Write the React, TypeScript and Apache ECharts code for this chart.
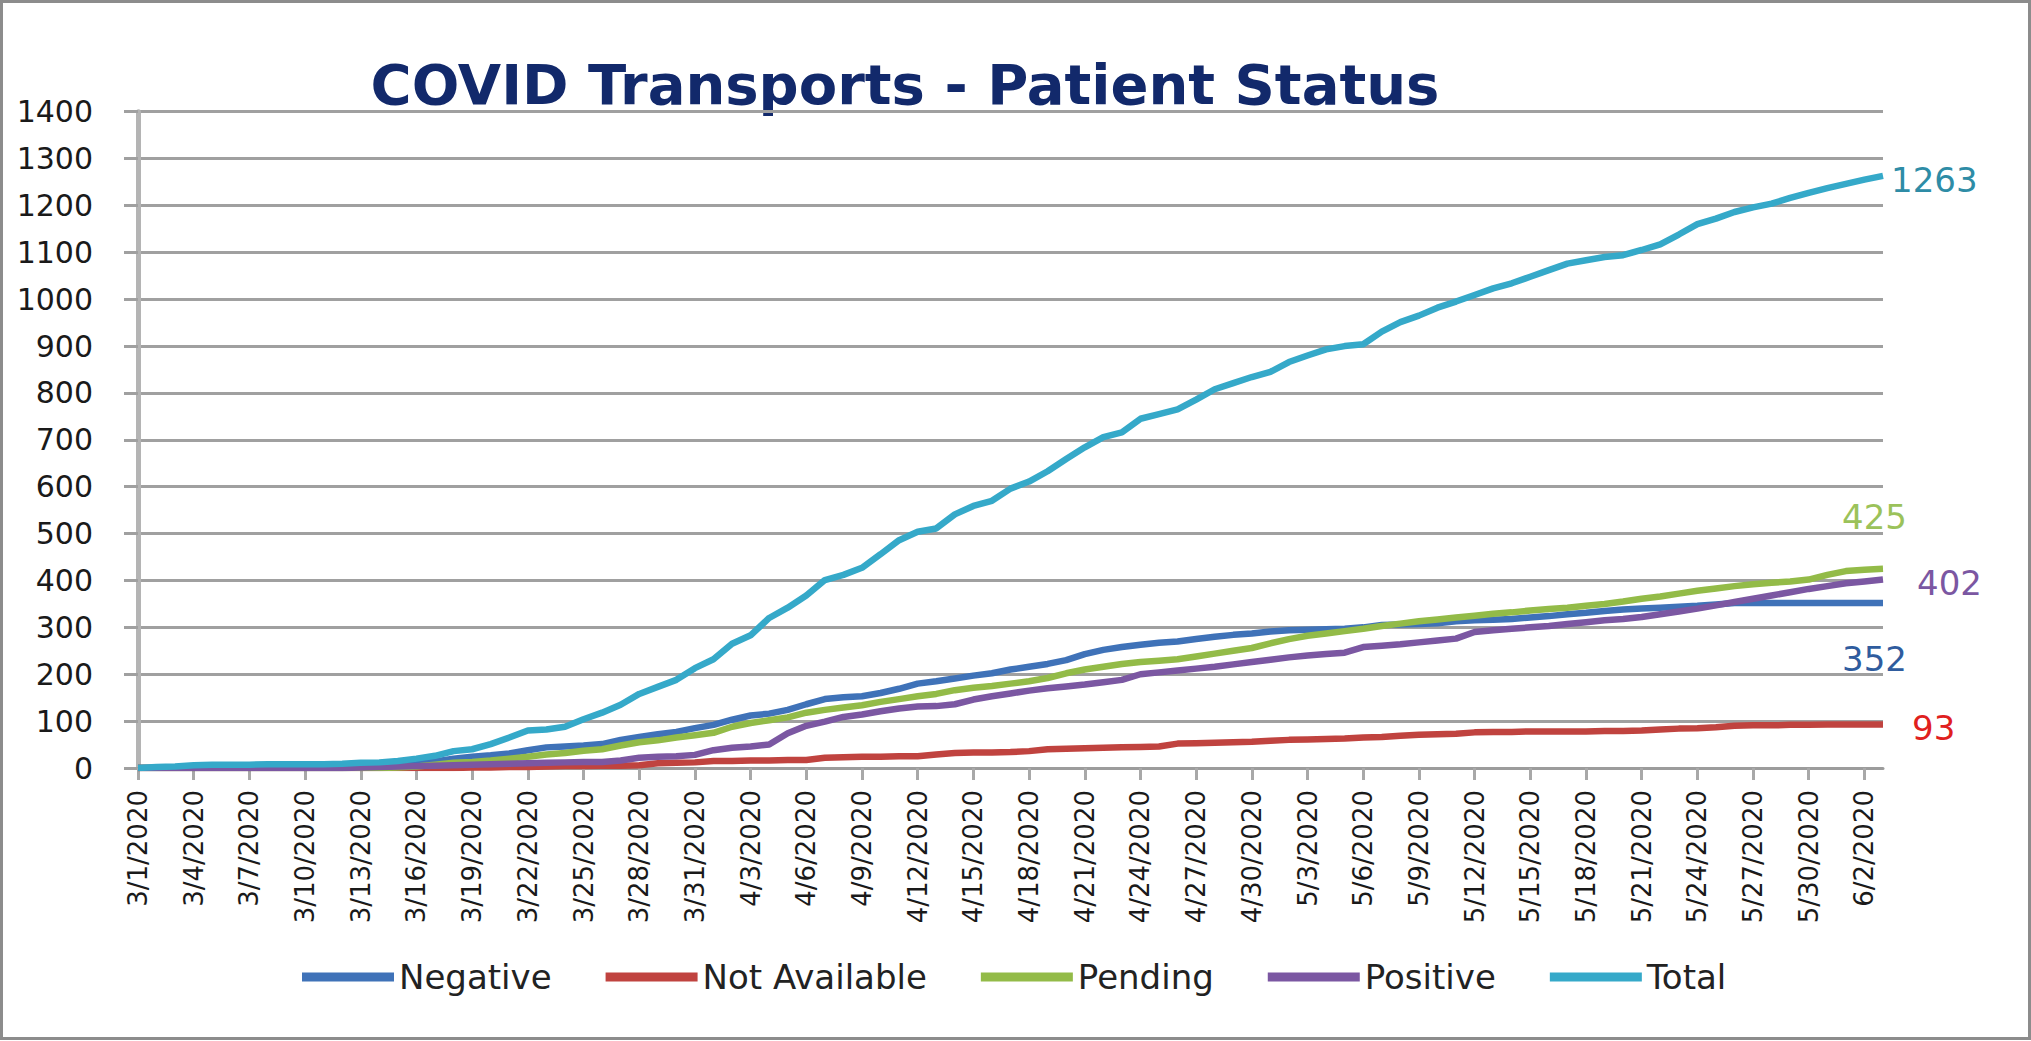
import { useEffect, useRef } from "react";
import * as echarts from "echarts";

const dates = [
  "3/1/2020","3/2/2020","3/3/2020","3/4/2020","3/5/2020","3/6/2020","3/7/2020","3/8/2020","3/9/2020","3/10/2020",
  "3/11/2020","3/12/2020","3/13/2020","3/14/2020","3/15/2020","3/16/2020","3/17/2020","3/18/2020","3/19/2020","3/20/2020",
  "3/21/2020","3/22/2020","3/23/2020","3/24/2020","3/25/2020","3/26/2020","3/27/2020","3/28/2020","3/29/2020","3/30/2020",
  "3/31/2020","4/1/2020","4/2/2020","4/3/2020","4/4/2020","4/5/2020","4/6/2020","4/7/2020","4/8/2020","4/9/2020",
  "4/10/2020","4/11/2020","4/12/2020","4/13/2020","4/14/2020","4/15/2020","4/16/2020","4/17/2020","4/18/2020","4/19/2020",
  "4/20/2020","4/21/2020","4/22/2020","4/23/2020","4/24/2020","4/25/2020","4/26/2020","4/27/2020","4/28/2020","4/29/2020",
  "4/30/2020","5/1/2020","5/2/2020","5/3/2020","5/4/2020","5/5/2020","5/6/2020","5/7/2020","5/8/2020","5/9/2020",
  "5/10/2020","5/11/2020","5/12/2020","5/13/2020","5/14/2020","5/15/2020","5/16/2020","5/17/2020","5/18/2020","5/19/2020",
  "5/20/2020","5/21/2020","5/22/2020","5/23/2020","5/24/2020","5/25/2020","5/26/2020","5/27/2020","5/28/2020","5/29/2020",
  "5/30/2020","5/31/2020","6/1/2020","6/2/2020","6/3/2020",
];

const negative = [
  0,0,0,0,0,0,0,0,0,0,
  0,0,1,2,4,8,14,20,24,27,
  31,38,44,46,48,51,60,66,72,77,
  85,92,103,112,116,124,136,147,151,153,
  160,169,180,185,191,197,202,210,216,222,
  230,243,252,258,263,267,270,275,280,284,
  287,291,294,295,296,297,300,305,306,307,
  309,313,315,316,318,321,324,328,331,335,
  338,340,342,344,346,349,352,352,352,352,
  352,352,352,352,352,
];

const notAvailable = [
  0,0,0,0,0,0,0,0,0,0,
  0,0,0,0,0,0,0,0,1,1,
  2,2,3,4,4,5,5,6,10,11,
  12,15,15,16,16,17,17,22,23,24,
  24,25,25,29,32,33,33,34,36,40,
  41,42,43,44,45,46,52,53,54,55,
  56,58,60,61,62,63,65,66,69,71,
  72,73,76,77,77,78,78,78,78,79,
  79,80,82,84,85,87,90,91,91,92,
  92,93,93,93,93,
];

const pending = [
  0,0,0,0,0,0,0,0,0,0,
  0,0,0,0,1,3,7,11,13,16,
  20,24,29,32,37,40,48,55,59,65,
  70,75,88,96,102,108,118,124,129,134,
  141,147,153,158,166,171,175,180,185,192,
  202,210,216,222,226,229,232,238,244,250,
  256,266,275,282,287,292,297,303,308,313,
  317,321,325,329,332,336,339,342,346,350,
  355,361,366,372,378,383,388,392,395,398,
  402,412,420,423,425,
];

const positive = [
  0,0,0,0,0,0,0,0,0,0,
  0,0,1,2,3,4,5,6,7,8,
  9,10,11,12,13,13,16,22,24,25,
  28,38,43,46,50,74,90,99,109,114,
  121,127,131,132,136,146,153,159,165,170,
  174,178,183,188,200,204,208,212,216,221,
  226,231,236,240,243,246,258,261,264,268,
  272,276,290,294,297,300,303,307,311,315,
  318,322,328,334,340,347,354,361,368,375,
  382,388,394,398,402,
];

const total = [
  0,2,3,6,7,7,7,8,8,8,
  8,9,11,12,15,20,26,36,40,51,
  65,80,82,88,104,118,135,158,173,188,
  213,232,265,283,320,342,368,401,412,427,
  456,486,504,511,541,559,570,596,611,633,
  659,684,706,716,745,755,765,786,808,821,
  834,845,866,880,893,900,904,931,951,965,
  982,995,1009,1023,1034,1048,1062,1076,1083,1090,
  1094,1105,1117,1138,1160,1172,1186,1196,1204,1216,
  1227,1237,1246,1255,1263,
];

const seriesNames = ["Negative", "Not Available", "Pending", "Positive", "Total"];
const lineColors = ["#3F72B8", "#C0433F", "#93BB48", "#7B57A2", "#35A9C9"];
const labelColors = ["#2F5C9E", "#E0201E", "#9BC25A", "#7B57A2", "#2E8CA6"];
const labelOffsets: [number, number][] = [[-41, 56], [29, 4], [-41, -52], [34, 3], [8, 4]];
const seriesValues = [negative, notAvailable, pending, positive, total];

const yMax = 1400;
const yStep = 100;
const FONT = "DejaVu Sans";

export default function App() {
  const ref = useRef<HTMLDivElement>(null);
  useEffect(() => {
    const chart = echarts.init(ref.current!, null, { renderer: "svg" });
    chart.setOption({
      animation: false,
      backgroundColor: "#ffffff",
      graphic: [
        {
          type: "rect",
          shape: { x: 1.5, y: 1.5, width: 2028, height: 1037 },
          style: { fill: "none", stroke: "#8c8c8c", lineWidth: 3 },
          silent: true,
        },
        {
          type: "text",
          x: 905,
          y: 84,
          style: {
            text: "COVID Transports - Patient Status",
            font: `bold 56px "${FONT}"`,
            fill: "#12296B",
            textAlign: "center",
            textVerticalAlign: "middle",
          },
        },
      ],
      grid: { left: 138, right: 148, top: 111.7, bottom: 273, containLabel: false },
      legend: {
        data: seriesNames,
        left: 297,
        top: 955,
        icon: "rect",
        itemWidth: 92,
        itemHeight: 9,
        itemGap: 54,
        textStyle: { fontFamily: FONT, fontSize: 34, color: "#222" },
      },
      xAxis: {
        type: "category",
        data: dates,
        boundaryGap: false,
        axisLine: { show: true, lineStyle: { color: "#9c9c9c", width: 3 } },
        axisTick: { show: true, interval: 2, length: 12, lineStyle: { color: "#a8a8a8", width: 3 } },
        axisLabel: {
          interval: 2,
          rotate: 90,
          margin: 22,
          fontFamily: FONT,
          fontSize: 26,
          color: "#1a1a1a",
        },
        splitLine: { show: false },
      },
      yAxis: {
        type: "value",
        min: 0,
        max: yMax,
        interval: yStep,
        axisLine: { show: true, lineStyle: { color: "#b4b4b4", width: 5 } },
        axisTick: { show: true, length: 14, lineStyle: { color: "#a0a0a0", width: 3 } },
        axisLabel: {
          margin: 45,
          fontFamily: FONT,
          fontSize: 30,
          color: "#1a1a1a",
          formatter: (v: number) => String(v),
        },
        splitLine: { show: true, lineStyle: { color: "#a0a0a0", width: 3 } },
      },
      series: seriesNames.map((name, i) => ({
        name,
        type: "line",
        data: seriesValues[i],
        showSymbol: false,
        lineStyle: { width: 6.5, color: lineColors[i] },
        itemStyle: { color: lineColors[i] },
        endLabel: {
          show: true,
          formatter: (p: any) => String(p.value),
          color: labelColors[i],
          fontFamily: FONT,
          fontSize: 34,
          distance: 0,
          offset: labelOffsets[i],
        },
      })),
    });
    return () => chart.dispose();
  }, []);
  return (
    <div
      ref={ref}
      style={{ position: "fixed", left: 0, top: 0, width: 2031, height: 1041, background: "#fff" }}
    />
  );
}
